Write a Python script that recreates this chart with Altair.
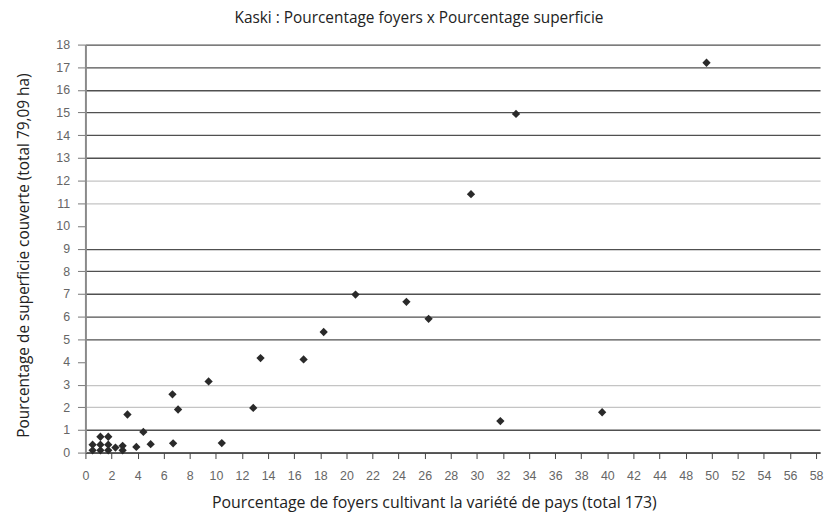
import altair as alt
import pandas as pd

# x values are positions on the printed axis (whose labels skip 46: ... 44, 48, 50 ...)
x_vals = [0.55, 0.55, 1.15, 1.15, 1.15, 1.75, 1.75, 1.75, 2.3, 2.85, 2.85,
          3.22, 3.9, 4.44, 5.0, 6.67, 6.72, 7.1, 9.44, 10.45, 12.86, 13.42,
          16.72, 18.26, 20.7, 24.6, 26.3, 29.55, 31.8, 33.0, 39.6, 47.6]
y_vals = [0.35, 0.1, 0.7, 0.35, 0.1, 0.7, 0.35, 0.1, 0.22, 0.3, 0.1,
          1.68, 0.25, 0.91, 0.37, 2.57, 0.41, 1.9, 3.14, 0.42, 1.97, 4.17,
          4.11, 5.32, 6.97, 6.65, 5.9, 11.4, 1.39, 14.94, 1.78, 17.2]

x_ticks = list(range(0, 57, 2))
y_ticks = list(range(0, 19))
light_grid = [2, 3, 11, 12]
hidden_grid = [4, 10]

title = "Kaski : Pourcentage foyers x Pourcentage superficie"
x_title = "Pourcentage de foyers cultivant la variété de pays (total 173)"
y_title = "Pourcentage de superficie couverte (total 79,09 ha)"

df = pd.DataFrame({"x": x_vals, "y": y_vals})

light_test = " || ".join(f"datum.value == {v}" for v in light_grid)
hidden_test = " || ".join(f"datum.value == {v}" for v in hidden_grid)

LABEL_FONT = "Arial, Liberation Sans, sans-serif"

chart = alt.Chart(df).mark_point(
    shape="diamond", filled=True, color="#2a2a2a", size=70, opacity=1
).encode(
    x=alt.X("x:Q",
            scale=alt.Scale(domain=[0, 56.3], nice=False, zero=False),
            axis=alt.Axis(values=x_ticks, grid=False, title=x_title,
                          labelExpr="datum.value >= 46 ? datum.value + 2 : datum.value",
                          labelFont=LABEL_FONT, labelFontSize=12.5, labelColor="#666666",
                          labelPadding=11, tickSize=6, tickColor="#444444", tickWidth=1,
                          domainColor="#444444", domainWidth=1.5,
                          titleFont="Open Sans", titleFontSize=16, titleFontWeight="normal",
                          titleColor="#222222", titlePadding=13, titleX=351,
                          labelFlush=False)),
    y=alt.Y("y:Q",
            scale=alt.Scale(domain=[0, 18], nice=False),
            axis=alt.Axis(values=y_ticks, title=y_title,
                          grid=True,
                          gridColor={"condition": {"test": light_test, "value": "#c4c4c4"}, "value": "#505050"},
                          gridOpacity={"condition": {"test": hidden_test, "value": 0}, "value": 1},
                          gridWidth=1.4,
                          labelFont=LABEL_FONT, labelFontSize=12.5, labelColor="#666666",
                          labelPadding=8, tickSize=8, tickColor="#777777",
                          domainColor="#8a8a8a", domainWidth=2,
                          titleFont="Open Sans", titleFontSize=15.5, titleFontWeight="normal",
                          titleColor="#222222", titlePadding=24, titleY=212)),
).properties(
    width=740, height=411,
    title=alt.Title(title, font="Open Sans", fontSize=15.5, fontWeight="normal",
                    color="#222222", anchor="middle", offset=12, dx=-34),
    autosize=alt.AutoSizeParams(type="none"),
    padding={"left": 78, "top": 35, "right": 5, "bottom": 60},
).configure_view(stroke=None)

chart.save("out.html", embed_options={"renderer": "svg", "actions": False})
